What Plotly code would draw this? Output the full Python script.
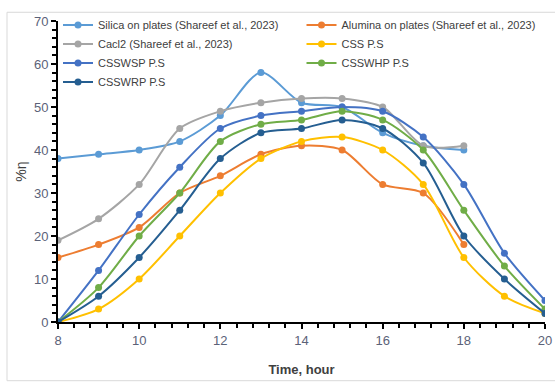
import plotly.graph_objects as go

hours_short = [8, 9, 10, 11, 12, 13, 14, 15, 16, 17, 18]
hours_full = [8, 9, 10, 11, 12, 13, 14, 15, 16, 17, 18, 19, 20]

silica = [38, 39, 40, 42, 48, 58, 51, 50, 44, 41, 40]
alumina = [15, 18, 22, 30, 34, 39, 41, 40, 32, 30, 18]
cacl2 = [19, 24, 32, 45, 49, 51, 52, 52, 50, 41, 41]
css = [0, 3, 10, 20, 30, 38, 42, 43, 40, 32, 15, 6, 2]
csswsp = [0, 12, 25, 36, 45, 48, 49, 50, 49, 43, 32, 16, 5]
csswhp = [0, 8, 20, 30, 42, 46, 47, 49, 47, 40, 26, 13, 3]
csswrp = [0, 6, 15, 26, 38, 44, 45, 47, 45, 37, 20, 10, 2]

series = [
    ("Silica on plates (Shareef et al., 2023)", hours_short, silica, "#5B9BD5"),
    ("Alumina on plates (Shareef et al., 2023)", hours_short, alumina, "#ED7D31"),
    ("Cacl2 (Shareef et al., 2023)", hours_short, cacl2, "#A5A5A5"),
    ("CSS P.S", hours_full, css, "#FFC000"),
    ("CSSWSP P.S", hours_full, csswsp, "#4472C4"),
    ("CSSWHP P.S", hours_full, csswhp, "#70AD47"),
    ("CSSWRP P.S", hours_full, csswrp, "#255E91"),
]

FONT = "Liberation Sans Narrow, Arial Narrow, Liberation Sans, Arial, sans-serif"
TICKCOL = "#5B6278"

fig = go.Figure()
for name, x, y, col in series:
    fig.add_trace(go.Scatter(
        x=x, y=y, name=name, mode="lines+markers",
        line=dict(color=col, width=2, shape="spline", smoothing=0.8),
        marker=dict(color=col, size=7, symbol="circle"),
    ))

fig.update_layout(
    width=555, height=384,
    margin=dict(l=58, r=10, t=15, b=62),
    paper_bgcolor="white", plot_bgcolor="white",
    font=dict(family=FONT, size=12, color=TICKCOL),
    showlegend=True,
    legend=dict(
        orientation="h", x=0.0, y=1.035, xanchor="left", yanchor="top",
        entrywidth=0.5, entrywidthmode="fraction",
        bgcolor="rgba(0,0,0,0)",
        font=dict(family=FONT, size=11, color="#404040"),
        itemwidth=30, tracegroupgap=0,
    ),
    xaxis=dict(
        range=[8, 20], tickmode="linear", tick0=8, dtick=2,
        showgrid=False, zeroline=False, automargin=False,
        showline=True, linecolor="black", linewidth=2,
        ticks="outside", ticklen=5, tickwidth=1.5, tickcolor="black",
        minor=dict(dtick=0.4, ticks="outside", ticklen=4, tickwidth=1.5, tickcolor="black", showgrid=False),
        tickfont=dict(family=FONT, size=13, color=TICKCOL),
        title=dict(text="<b>Time, hour</b>", font=dict(family=FONT, size=13, color="#404040"), standoff=18),
    ),
    yaxis=dict(
        range=[0, 70], tickmode="linear", tick0=0, dtick=10,
        showgrid=False, zeroline=False, automargin=False,
        showline=True, linecolor="black", linewidth=2,
        ticks="outside", ticklen=5, tickwidth=1.5, tickcolor="black",
        minor=dict(dtick=2, ticks="outside", ticklen=4, tickwidth=1.5, tickcolor="black", showgrid=False),
        tickfont=dict(family=FONT, size=13, color=TICKCOL),
        title=dict(text="%η", font=dict(family=FONT, size=14, color="#404040"), standoff=4),
    ),
    shapes=[dict(
        type="rect", xref="paper", yref="paper",
        x0=-0.1047, x1=1.03, y0=-0.195, y1=1.029,
        line=dict(color="#D9D9D9", width=1), fillcolor="rgba(0,0,0,0)", layer="below",
    )],
)

fig.write_html("out.html")
